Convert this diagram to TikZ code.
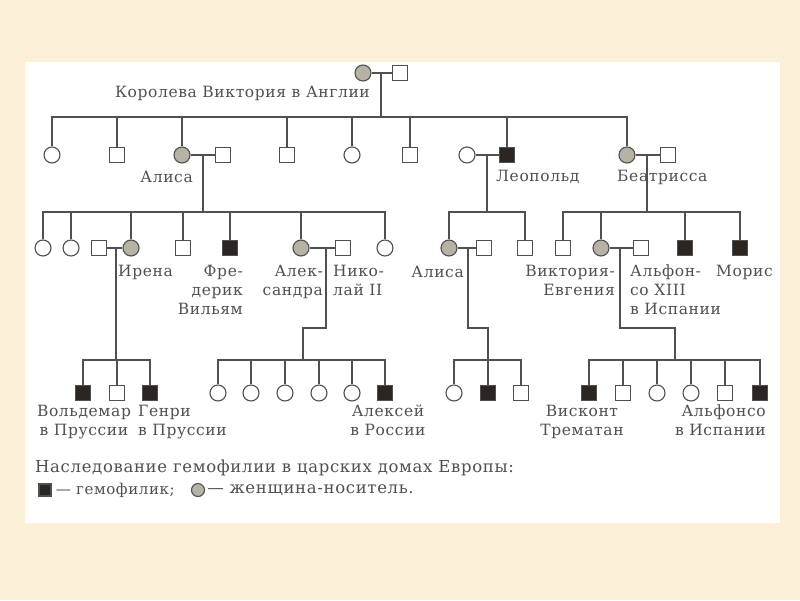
\documentclass[tikz,border=0pt]{standalone}
\usepackage{fontspec}
\setmainfont{DejaVu Serif}
\newfontfamily\labelfont[LetterSpace=4]{DejaVu Serif}
\usetikzlibrary{positioning}

\definecolor{paper}{HTML}{FBEFD8}
\definecolor{ink}{HTML}{505050}
\definecolor{carrierfill}{HTML}{B7B2A6}
\definecolor{sick}{HTML}{2B2621}

\begin{document}
\begin{tikzpicture}[
  x=1pt, y=-1pt,
  link/.style={draw=ink, line width=1.1pt},
  fem/.style={draw=ink, line width=1.1pt, circle, minimum size=16pt, inner sep=0pt, fill=white},
  mal/.style={draw=ink, line width=1.1pt, rectangle, minimum size=15pt, inner sep=0pt, fill=white},
  carrier/.style={fem, fill=carrierfill},
  hemo/.style={mal, fill=sick},
  lbl/.style={text=ink, font=\labelfont\fontsize{15.5}{19}\selectfont, inner sep=0pt},
  keytext/.style={lbl, font=\labelfont\fontsize{16.5}{19}\selectfont},
  keysmall/.style={lbl, font=\labelfont\fontsize{15}{19}\selectfont}
]
\useasboundingbox (0,0) rectangle (800,600);
\fill[paper] (0,0) rectangle (800,600);
\fill[white] (25,62) rectangle (780,523);

% Row 0: Victoria
\node[carrier] (victoria) at (363,73) {};
\node[mal] (albert) at (400,73) {};
\coordinate (m0) at (381,73);
\coordinate (s0) at (381,117);
\draw[link] (victoria) -- (albert);
\draw[link] (m0) -- (s0);
\node[lbl, anchor=east] (tvictoria) at (370,93) {Королева Виктория в Англии};

% Row 1: children of Victoria
\node[fem] (vic1) at (52,155) {};
\node[mal] (vic2) at (117,155) {};
\node[carrier] (alice) at (182,155) {};
\node[mal] (ludwig) at (223,155) {};
\node[mal] (vic4) at (287,155) {};
\node[fem] (vic5) at (352,155) {};
\node[mal] (vic6) at (410,155) {};
\node[fem] (helena) at (467,155) {};
\node[hemo] (leopold) at (507,155) {};
\node[carrier] (beatrice) at (627,155) {};
\node[mal] (henry) at (668,155) {};

\foreach \kid in {vic1,vic2,alice,vic4,vic5,vic6,leopold,beatrice}
  \draw[link] (\kid) |- (s0);

\draw[link] (alice) -- (ludwig);
\draw[link] (helena) -- (leopold);
\draw[link] (beatrice) -- (henry);
\coordinate (m1) at (203,155);
\coordinate (s1) at (203,212);
\coordinate (m2) at (487,155);
\coordinate (s2) at (487,212);
\coordinate (m3) at (647,155);
\coordinate (s3) at (647,212);
\draw[link] (m1) -- (s1);
\draw[link] (m2) -- (s2);
\draw[link] (m3) -- (s3);

\node[lbl, anchor=east] (talice) at (193,177) {Алиса};
\node[lbl, anchor=west] (tleopold) at (496,177) {Леопольд};
\node[lbl, anchor=west] (tbeatrice) at (617,177) {Беатрисса};

% Row 2: grandchildren
\node[fem] (ali1) at (43,248) {};
\node[fem] (ali2) at (71,248) {};
\node[mal] (heinrich) at (99,248) {};
\node[carrier] (irene) at (131,248) {};
\node[mal] (ali4) at (183,248) {};
\node[hemo] (friedrich) at (230,248) {};
\node[carrier] (alix) at (301,248) {};
\node[mal] (nicholas) at (343,248) {};
\node[fem] (ali7) at (385,248) {};

\foreach \kid in {ali1,ali2,irene,ali4,friedrich,alix,ali7}
  \draw[link] (\kid) |- (s1);

\node[carrier] (alicel) at (449,248) {};
\node[mal] (athlone) at (484,248) {};
\node[mal] (charles) at (525,248) {};
\foreach \kid in {alicel,charles}
  \draw[link] (\kid) |- (s2);

\node[mal] (bea1) at (563,248) {};
\node[carrier] (ena) at (601,248) {};
\node[mal] (alfonso) at (641,248) {};
\node[hemo] (leopoldb) at (685,248) {};
\node[hemo] (maurice) at (740,248) {};
\foreach \kid in {bea1,ena,leopoldb,maurice}
  \draw[link] (\kid) |- (s3);

\draw[link] (heinrich) -- (irene);
\draw[link] (alix) -- (nicholas);
\draw[link] (alicel) -- (athlone);
\draw[link] (ena) -- (alfonso);

\node[lbl, anchor=west] (tirene) at (118,272) {Ирена};
\node[lbl, anchor=north east, align=right] (tfriedrich) at (243,265) {Фре-\\дерик\\Вильям};
\node[lbl, anchor=north east, align=right] (talix) at (323,265) {Алек-\\сандра};
\node[lbl, anchor=north west, align=left] (tnicholas) at (333,265) {Нико-\\лай II};
\node[lbl, anchor=east] (talicel) at (464,272) {Алиса};
\node[lbl, anchor=north east, align=right] (tena) at (615,265) {Виктория-\\Евгения};
\node[lbl, anchor=north west, align=left] (talfonso) at (630,265) {Альфон-\\со XIII\\в Испании};
\node[lbl, anchor=west] (tmaurice) at (716,272) {Морис};

% Row 3: great-grandchildren
\coordinate (m4) at (116,248);
\coordinate (s4) at (116,360);
\draw[link] (m4) -- (s4);
\node[hemo] (waldemar) at (83,393) {};
\node[mal] (sigismund) at (117,393) {};
\node[hemo] (heinrichp) at (150,393) {};
\foreach \kid in {waldemar,sigismund,heinrichp}
  \draw[link] (\kid) |- (s4);

\coordinate (m5) at (326,248);
\coordinate (j5) at (303,328);
\coordinate (s5) at (303,360);
\draw[link] (m5) |- (j5) -- (s5);
\node[fem] (olga) at (218,393) {};
\node[fem] (tatiana) at (251,393) {};
\node[fem] (maria) at (285,393) {};
\node[fem] (anastasia) at (319,393) {};
\node[fem] (rom5) at (352,393) {};
\node[hemo] (alexei) at (385,393) {};
\foreach \kid in {olga,tatiana,maria,anastasia,rom5,alexei}
  \draw[link] (\kid) |- (s5);

\coordinate (m6) at (468,248);
\coordinate (j6) at (488,328);
\coordinate (s6) at (488,360);
\draw[link] (m6) |- (j6) -- (s6);
\node[fem] (may) at (454,393) {};
\node[hemo] (rupert) at (488,393) {};
\node[mal] (maurice2) at (521,393) {};
\foreach \kid in {may,rupert,maurice2}
  \draw[link] (\kid) |- (s6);

\coordinate (m7) at (620,248);
\coordinate (j7) at (675,328);
\coordinate (s7) at (675,360);
\draw[link] (m7) |- (j7) -- (s7);
\node[hemo] (asturias) at (589,393) {};
\node[mal] (jaime) at (623,393) {};
\node[fem] (beatriz) at (657,393) {};
\node[fem] (cristina) at (691,393) {};
\node[mal] (juan) at (725,393) {};
\node[hemo] (gonzalo) at (760,393) {};
\foreach \kid in {asturias,jaime,beatriz,cristina,juan,gonzalo}
  \draw[link] (\kid) |- (s7);

\node[lbl, anchor=north, align=center] (twaldemar) at (84,405) {Вольдемар\\в Пруссии};
\node[lbl, anchor=north west, align=left] (theinrichp) at (138,405) {Генри\\в Пруссии};
\node[lbl, anchor=north, align=center] (talexei) at (388,405) {Алексей\\в России};
\node[lbl, anchor=north, align=center] (tasturias) at (582,405) {Висконт\\Трематан};
\node[lbl, anchor=north east, align=right] (tgonzalo) at (766,405) {Альфонсо\\в Испании};

% Legend
\node[keytext, anchor=west] (legend) at (35,468)
  {Наследование гемофилии в царских домах Европы:};
\node[hemo, minimum size=12pt] (keyhemo) at (45,490) {};
\node[keysmall, right=4pt of keyhemo] (tkeyhemo) {— гемофилик;};
\node[carrier, minimum size=13pt] (keycarrier) at (198,490) {};
\node[keytext, right=2pt of keycarrier] (tkeycarrier) {— женщина-носитель.};

\end{tikzpicture}
\end{document}
